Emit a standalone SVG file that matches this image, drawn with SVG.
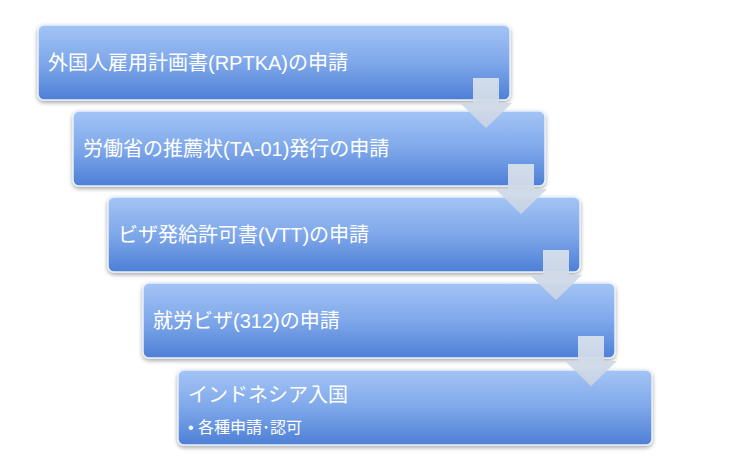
<svg xmlns="http://www.w3.org/2000/svg" width="750" height="469" viewBox="0 0 750 469">
<defs>
<linearGradient id="g" x1="0" y1="0" x2="0" y2="1">
<stop offset="0" stop-color="#a3c4f5"/><stop offset="0.5" stop-color="#7fa8ea"/><stop offset="1" stop-color="#4d7fd6"/>
</linearGradient>
<linearGradient id="a" x1="0" y1="0" x2="0" y2="1">
<stop offset="0" stop-color="#d7e0ec"/><stop offset="1" stop-color="#c9d4e4"/>
</linearGradient>
<filter id="s" x="-5%" y="-10%" width="110%" height="130%"><feDropShadow dx="0" dy="2" stdDeviation="2" flood-color="#000" flood-opacity="0.35"/></filter>
<path id="arr" d="M0,0 h26 v25 h13 l-26,25 l-26,-25 h13 z"/>
</defs>
<style>
.b{fill:url(#g);stroke:#e8f0fc;stroke-width:1.5;filter:url(#s)}
.t{font-family:"Liberation Sans","Noto Sans CJK JP",sans-serif;fill:#fff;font-size:20px}
.ar{fill:url(#a);opacity:0.95}
</style>
<g id="n1"><rect class="b" x="38" y="25" width="472" height="75" rx="6"/><text class="t" x="48" y="70">外国人雇用計画書(RPTKA)の申請</text></g>
<g id="n2"><rect class="b" x="73" y="111" width="472" height="75" rx="6"/><text class="t" x="83" y="156">労働省の推薦状(TA-01)発行の申請</text></g>
<g id="n3"><rect class="b" x="108" y="197" width="472" height="75" rx="6"/><text class="t" x="118" y="242">ビザ発給許可書(VTT)の申請</text></g>
<g id="n4"><rect class="b" x="143" y="283" width="472" height="75" rx="6"/><text class="t" x="153" y="328">就労ビザ(312)の申請</text></g>
<g id="n5"><rect class="b" x="178" y="370" width="474" height="75" rx="6"/><text class="t" x="188" y="402">インドネシア入国</text><text class="t" x="188" y="433" style="font-size:16px">• 各種申請･認可</text></g>
<g id="connectors">
<use href="#arr" class="ar" x="473" y="78"/>
<use href="#arr" class="ar" x="508" y="164"/>
<use href="#arr" class="ar" x="543" y="250"/>
<use href="#arr" class="ar" x="578" y="336"/>
</g>
</svg>
